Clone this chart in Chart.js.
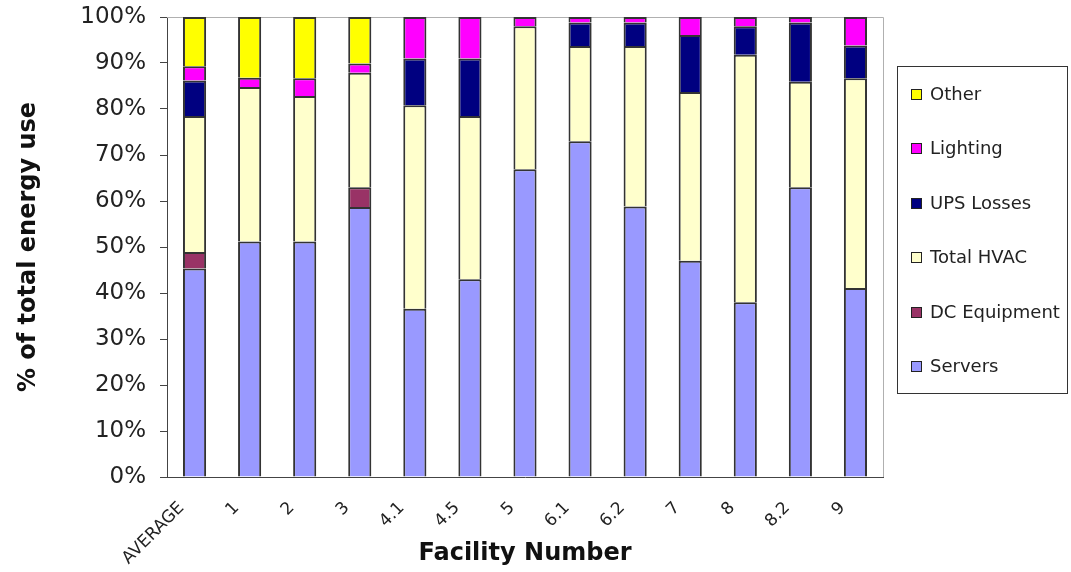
<!DOCTYPE html>
<html>
<head>
<meta charset="utf-8">
<script src="https://cdn.jsdelivr.net/npm/chart.js@4/dist/chart.umd.min.js"></script>
<style>
  html, body { margin: 0; padding: 0; background: #fff; }
  #wrap { width: 1071px; height: 572px; position: relative; }
</style>
</head>
<body>
<div id="wrap"><canvas id="c"></canvas></div>
<script>
// Facility categories along the x axis
const facilities = ['AVERAGE', '1', '2', '3', '4.1', '4.5', '5', '6.1', '6.2', '7', '8', '8.2', '9'];

// Share of total energy use (%) per end use, bottom to top of each stack
const servers     = [45.3, 51.2, 51.2, 58.7, 36.6, 43.0, 66.9, 73.0, 58.8, 47.0, 38.0, 63.0, 41.1];
const dcEquipment = [ 3.6,  0,    0,    4.3,  0,    0,    0,    0,    0,    0,    0,    0,    0  ];
const totalHvac   = [29.6, 33.6, 31.6, 24.9, 44.2, 35.5, 31.1, 20.7, 34.9, 36.7, 53.8, 22.9, 45.6];
const upsLosses   = [ 7.7,  0,    0,    0,   10.2, 12.5,  0,    5.1,  5.1, 12.4,  6.2, 12.9,  7.1];
const lighting    = [ 3.1,  2.0,  3.9,  2.0,  9.0,  9.0,  2.0,  1.2,  1.2,  3.9,  2.0,  1.2,  6.2];
const other       = [10.7, 13.2, 13.3, 10.1,  0,    0,    0,    0,    0,    0,    0,    0,    0  ];

// Y axis tick values
const yTicks = [0, 10, 20, 30, 40, 50, 60, 70, 80, 90, 100];

const FONT = 'DejaVu Sans, Verdana, sans-serif';

function series(label, data, color) {
  return {
    label, data,
    backgroundColor: color,
    borderColor: '#333',
    borderWidth: ctx => (ctx.raw ? 2 : 0),
    barPercentage: 0.42,
    categoryPercentage: 1.0
  };
}

// Light frame on the top and right of the plot area
const plotFrame = {
  id: 'plotFrame',
  beforeDatasetsDraw(chart) {
    const { ctx, chartArea: a } = chart;
    ctx.save();
    ctx.strokeStyle = '#b0b0b0';
    ctx.lineWidth = 1;
    ctx.beginPath();
    ctx.moveTo(a.left, a.top + 0.5);
    ctx.lineTo(a.right + 0.5, a.top + 0.5);
    ctx.lineTo(a.right + 0.5, a.bottom);
    ctx.stroke();
    ctx.restore();
  }
};

// Boxed legend on the right, listed top of stack first
const boxLegend = {
  id: 'boxLegend',
  afterDraw(chart) {
    const { ctx } = chart;
    const box = { x: 897.5, y: 66.5, w: 170, h: 327 };
    ctx.save();
    ctx.strokeStyle = '#333';
    ctx.lineWidth = 1;
    ctx.strokeRect(box.x, box.y, box.w, box.h);
    const sets = chart.data.datasets.slice().reverse();
    const firstY = 94, step = 54.4;
    ctx.font = '18px ' + FONT;
    ctx.textBaseline = 'middle';
    ctx.textAlign = 'left';
    sets.forEach((ds, i) => {
      const cy = Math.round(firstY + i * step);
      ctx.fillStyle = ds.backgroundColor;
      ctx.fillRect(911, cy - 5, 11, 11);
      ctx.strokeStyle = '#222';
      ctx.strokeRect(911.5, cy - 4.5, 10, 10);
      ctx.fillStyle = '#222';
      ctx.fillText(ds.label, 930, cy + 1);
    });
    ctx.restore();
  }
};

new Chart(document.getElementById('c'), {
  type: 'bar',
  data: {
    labels: facilities,
    datasets: [
      series('Servers', servers, '#9999FF'),
      series('DC Equipment', dcEquipment, '#993366'),
      series('Total HVAC', totalHvac, '#FFFFCC'),
      series('UPS Losses', upsLosses, '#000080'),
      series('Lighting', lighting, '#FF00FF'),
      series('Other', other, '#FFFF00')
    ]
  },
  options: {
    responsive: true,
    maintainAspectRatio: false,
    devicePixelRatio: 1,
    animation: false,
    layout: { padding: { top: 17, right: 188, bottom: 0, left: 0 } },
    plugins: {
      legend: { display: false },
      tooltip: { enabled: false }
    },
    scales: {
      x: {
        stacked: true,
        grid: { display: true, drawOnChartArea: false, drawTicks: false },
        border: { display: true, color: '#444', width: 1 },
        ticks: {
          color: '#222',
          font: { family: FONT, size: 17 },
          minRotation: 45,
          maxRotation: 45,
          padding: 21,
          labelOffset: -13,
          autoSkip: false
        },
        title: {
          display: true,
          text: 'Facility Number',
          color: '#111',
          font: { family: FONT, size: 24, weight: 'bold' },
          padding: { top: 0, bottom: 4 }
        },
        afterFit(scale) {
          scale.height = 95;
          scale.paddingLeft = 0;
          scale.paddingRight = 0;
        }
      },
      y: {
        stacked: true,
        min: 0,
        max: 100,
        afterBuildTicks(scale) { scale.ticks = yTicks.map(v => ({ value: v })); },
        grid: { display: true, drawOnChartArea: false, drawTicks: true, tickLength: 7, color: '#444' },
        border: { display: true, color: '#444', width: 1 },
        ticks: {
          color: '#222',
          font: { family: FONT, size: 23 },
          padding: 14,
          callback: v => v + '%'
        },
        title: {
          display: true,
          text: '% of total energy use',
          color: '#111',
          font: { family: FONT, size: 24, weight: 'bold' },
          padding: { top: 14, bottom: 0 }
        },
        afterFit(scale) {
          scale.width = 167;
          scale.paddingTop = 0;
          scale.paddingBottom = 0;
        }
      }
    }
  },
  plugins: [plotFrame, boxLegend]
});
</script>
</body>
</html>
